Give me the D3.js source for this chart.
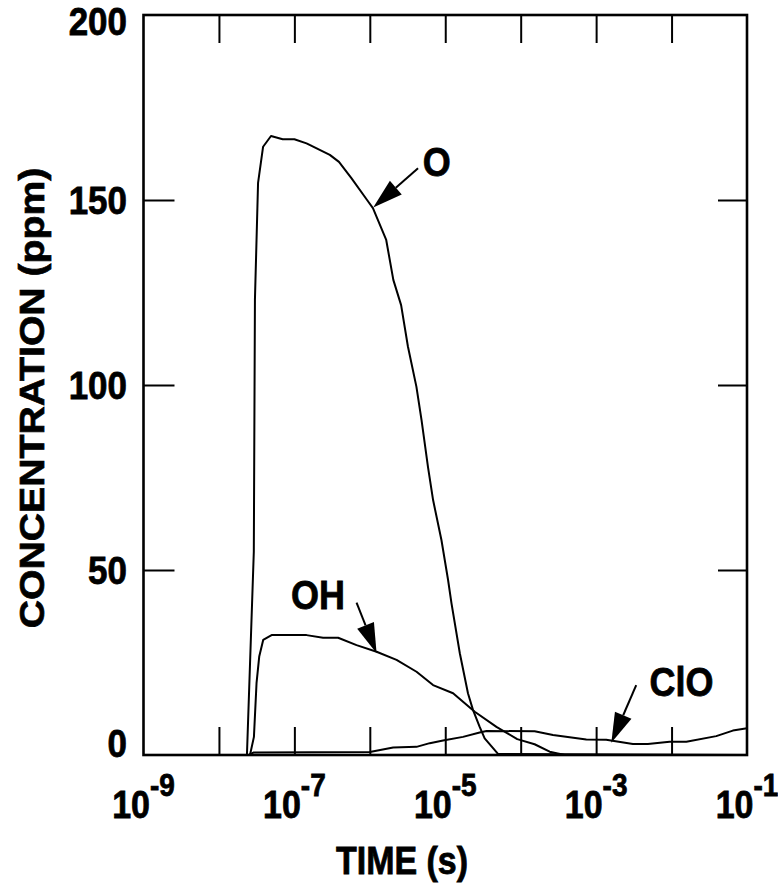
<!DOCTYPE html>
<html><head><meta charset="utf-8">
<script src="https://cdn.jsdelivr.net/npm/d3@7"></script>
<style>
body{margin:0;background:#fff}
text{font-family:"Liberation Sans",Arial,sans-serif;font-weight:bold;fill:#000;stroke:#000;stroke-width:0.7px}
</style>
</head><body>
<svg id="chart" width="778" height="884"></svg>
<script>
// ---- data (time in seconds, concentration in ppm) ----
const timeO = [1e-9, 2.35e-8, 2.9e-8, 3.0e-8, 3.3e-8, 3.85e-8, 4.9e-8, 7.0e-8, 1.0e-7, 1.45e-7, 2.95e-7, 3.9e-7, 5.7e-7, 9.2e-7, 1.1e-6, 1.65e-6, 2.05e-6, 2.6e-6, 3.2e-6, 4.15e-6, 4.85e-6, 5.9e-6, 6.9e-6, 8.9e-6, 1.09e-5, 1.21e-5, 1.56e-5, 2.0e-5, 2.33e-5, 2.86e-5, 3.33e-5, 5.0e-5, 1e-1];
const valO  = [0, 0, 55, 123, 154.6, 164.4, 167.3, 166.4, 166.4, 165.3, 162.2, 160.3, 155.9, 150, 147.8, 139.2, 128.4, 121.6, 110.4, 99.5, 90.5, 77.9, 68.9, 58.1, 47.3, 41, 27.5, 16.7, 12.2, 7.6, 4.5, 0.3, 0];

const timeOH = [1e-9, 2.58e-8, 2.91e-8, 3.15e-8, 3.42e-8, 3.86e-8, 4.99e-8, 1.45e-7, 2.4e-7, 3.8e-7, 6.67e-7, 1.23e-6, 2.26e-6, 4.16e-6, 6.89e-6, 1.27e-5, 2.46e-5, 4.77e-5, 9.0e-5, 1.53e-4, 2.42e-4, 3.83e-4, 1e-1];
const valOH  = [0, 0, 4.9, 19.4, 26.6, 31.1, 32.4, 32.4, 31.7, 31.7, 29.7, 27.9, 25.7, 22.5, 18.9, 16.7, 11.7, 7.6, 4.3, 2.9, 0.9, 0, 0];

const timeClO = [1e-9, 2.5e-8, 2.9e-8, 1.0e-6, 2.04e-6, 4.16e-6, 6.24e-6, 9.35e-6, 1.72e-5, 2.86e-5, 3.52e-5, 1.53e-4, 2.68e-4, 7.41e-4, 1.36e-3, 3.07e-3, 4.85e-3, 9.42e-3, 1.57e-2, 3.91e-2, 6.49e-2, 1e-1];
const valClO  = [0, 0, 0.7, 0.8, 2.0, 2.2, 3.2, 3.9, 4.9, 6.1, 6.5, 6.4, 5.4, 4.2, 4.1, 3.0, 3.0, 3.6, 3.6, 5.1, 6.6, 7.2];

const xTickExps = [-9, -8, -7, -6, -5, -4, -3, -2, -1];
const xLabelExps = [-9, -7, -5, -3, -1];
const yTickVals = [0, 50, 100, 150, 200];

// annotations: label position, arrow tail, arrow tip (data coords)
const annLabels = ["O", "OH", "ClO"];
const annLabelPos = [[7.7e-6, 160.5], [2.05e-7, 43.5], [1.35e-2, 20]];
const annTail = [[4.36e-6, 158.6], [6.67e-7, 41.2], [3.40e-3, 18.9]];
const annTip  = [[1.11e-6, 148], [1.23e-6, 27.5], [1.59e-3, 3.3]];

// ---- layout ----
const X0 = 143.5, X1 = 747, Y0 = 15, Y1 = 755;
const svg = d3.select("#chart");
const x = d3.scaleLog().domain([1e-9, 1e-1]).range([X0, X1]);
const y = d3.scaleLinear().domain([0, 200]).range([Y1, Y0]);
const SY = 1.12;

// ticks
const inner = xTickExps.slice(1, -1).map(e => Math.pow(10, e));
function styleAxis(g){ g.select(".domain").remove(); g.selectAll("line").attr("stroke","#000").attr("stroke-width",2); g.selectAll("text").remove(); }
svg.append("g").attr("transform",`translate(0,${Y1})`).call(d3.axisBottom(x).tickValues(inner).tickSize(-28).tickFormat("")).call(styleAxis);
svg.append("g").attr("transform",`translate(0,${Y0})`).call(d3.axisTop(x).tickValues(inner).tickSize(-28).tickFormat("")).call(styleAxis);
const yInner = yTickVals.slice(1, -1);
svg.append("g").attr("transform",`translate(${X0},0)`).call(d3.axisLeft(y).tickValues(yInner).tickSize(-31).tickFormat("")).call(styleAxis);
svg.append("g").attr("transform",`translate(${X1},0)`).call(d3.axisRight(y).tickValues(yInner).tickSize(-29).tickFormat("")).call(styleAxis);

// frame
svg.append("rect").attr("x",X0).attr("y",Y0).attr("width",X1-X0).attr("height",Y1-Y0)
  .attr("fill","none").attr("stroke","#000").attr("stroke-width",2.6);

// curves
const line = d3.line().x(d => x(d[0])).y(d => y(d[1]));
[[timeO,valO],[timeOH,valOH],[timeClO,valClO]].forEach(([t,v]) => {
  svg.append("path").datum(t.map((ti,i)=>[ti,v[i]]))
    .attr("d", line).attr("fill","none").attr("stroke","#000").attr("stroke-width",2).attr("stroke-linejoin","round");
});

// y tick labels
yTickVals.forEach(v => {
  const off = v === 0 ? -12 : (v === 200 ? 6 : 0);
  svg.append("text").attr("transform",`translate(127,${y(v)+off}) scale(1,${SY})`)
    .attr("text-anchor","end").attr("dy","0.36em").attr("font-size",35).text(v);
});

// x tick labels
xLabelExps.forEach(e => {
  const t = svg.append("text").attr("transform",`translate(${x(Math.pow(10,e))},818) scale(1,${SY})`)
    .attr("text-anchor","middle").attr("font-size",34);
  t.append("tspan").text("10");
  t.append("tspan").attr("dy",-20).attr("font-size",28).text(String(e));
});

// axis titles
svg.append("text").attr("transform",`translate(402,874) scale(1,${SY})`).attr("text-anchor","middle").attr("font-size",34).text("TIME (s)");
svg.append("text").attr("transform",`translate(44,398) rotate(-90) scale(${SY},1)`).attr("text-anchor","middle").attr("font-size",35).text("CONCENTRATION (ppm)");

// annotations
annLabels.forEach((lab,i) => {
  const [lx,ly] = annLabelPos[i];
  svg.append("text").attr("transform",`translate(${x(lx)},${y(ly)}) scale(1,${SY})`)
    .attr("text-anchor","middle").attr("dy","0.36em").attr("font-size",36).text(lab);
  const tx = x(annTail[i][0]), ty = y(annTail[i][1]);
  const px = x(annTip[i][0]), py = y(annTip[i][1]);
  const dx = px - tx, dy = py - ty, L = Math.hypot(dx,dy), ux = dx/L, uy = dy/L;
  const hl = 30, hw = 9;
  const bx = px - ux*hl, by = py - uy*hl;
  svg.append("line").attr("x1",tx).attr("y1",ty).attr("x2",bx).attr("y2",by).attr("stroke","#000").attr("stroke-width",2);
  svg.append("path").attr("d",`M${px},${py}L${bx - uy*hw},${by + ux*hw}L${bx + uy*hw},${by - ux*hw}Z`).attr("fill","#000");
});
</script>
</body></html>
